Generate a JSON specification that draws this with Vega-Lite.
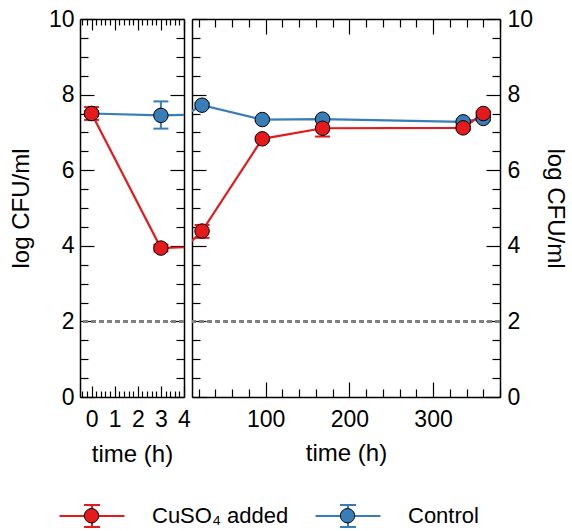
{
  "$schema": "https://vega.github.io/schema/vega-lite/v6.json",
  "background": "white",
  "padding": {"left": 9, "top": 8, "right": 0, "bottom": 0},
  "datasets": {
    "cfu": [
      {"series": "Control", "t": 0, "y": 7.5, "lo": 7.45, "hi": 7.55},
      {"series": "Control", "t": 3, "y": 7.45, "lo": 7.1, "hi": 7.82},
      {"series": "Control", "t": 24, "y": 7.72, "lo": 7.66, "hi": 7.78},
      {"series": "Control", "t": 96, "y": 7.34, "lo": 7.3, "hi": 7.38},
      {"series": "Control", "t": 168, "y": 7.35, "lo": 7.3, "hi": 7.4},
      {"series": "Control", "t": 336, "y": 7.28, "lo": 7.24, "hi": 7.32},
      {"series": "Control", "t": 360, "y": 7.37, "lo": 7.32, "hi": 7.42},
      {"series": "CuSO₄ added", "t": 0, "y": 7.5, "lo": 7.33, "hi": 7.67},
      {"series": "CuSO₄ added", "t": 3, "y": 3.94, "lo": 3.85, "hi": 4.03},
      {"series": "CuSO₄ added", "t": 24, "y": 4.39, "lo": 4.21, "hi": 4.55},
      {"series": "CuSO₄ added", "t": 96, "y": 6.83, "lo": 6.78, "hi": 6.88},
      {"series": "CuSO₄ added", "t": 168, "y": 7.11, "lo": 6.89, "hi": 7.33},
      {"series": "CuSO₄ added", "t": 336, "y": 7.12, "lo": 7.07, "hi": 7.17},
      {"series": "CuSO₄ added", "t": 360, "y": 7.5, "lo": 7.45, "hi": 7.55}
    ]
  },
  "data": {"name": "cfu"},
  "bounds": "flush",
  "spacing": 8,
  "hconcat": [
    {
      "width": 104,
      "height": 378,
      "resolve": {"axis": {"x": "independent", "y": "independent"}},
      "layer": [
        {
          "mark": {"type": "rule", "color": "#808080", "strokeDash": [5, 3], "strokeWidth": 1.5},
          "encoding": {"y": {"datum": 2, "type": "quantitative", "scale": {"domain": [0, 10]}, "axis": null}}
        },
        {
          "mark": {"type": "line", "strokeWidth": 2.2, "clip": true},
          "encoding": {
            "x": {"field": "t", "type": "quantitative", "scale": {"domain": [-0.5, 4], "nice": false},
              "axis": {"orient": "bottom", "title": "time (h)",
                "values": [-0.4, -0.2, 0, 0.2, 0.4, 0.6, 0.8, 1, 1.2, 1.4, 1.6, 1.8, 2, 2.2, 2.4, 2.6, 2.8, 3, 3.2, 3.4, 3.6, 3.8, 4],
                "labelExpr": "abs(datum.value - round(datum.value)) < 0.001 ? '' + round(datum.value) : ''",
                "tickSize": {"condition": {"test": "abs(datum.value - round(datum.value)) < 0.001", "value": -11}, "value": -6},
                "labelPadding": 22, "titlePadding": 6}},
            "y": {"field": "y", "type": "quantitative", "scale": {"domain": [0, 10]},
              "axis": {"orient": "left", "title": "log CFU/ml",
                "values": [0, 0.5, 1, 1.5, 2, 2.5, 3, 3.5, 4, 4.5, 5, 5.5, 6, 6.5, 7, 7.5, 8, 8.5, 9, 9.5, 10],
                "labelExpr": "datum.value % 2 === 0 ? '' + datum.value : ''",
                "tickSize": {"condition": {"test": "datum.value % 2 === 0", "value": -14}, "value": -8},
                "labelPadding": 20, "titlePadding": 15}},
            "stroke": {"field": "series", "type": "nominal",
              "scale": {"domain": ["CuSO₄ added", "Control"], "range": ["#e41a1c", "#377eb8"]},
              "legend": {"title": null, "orient": "none", "legendX": 0, "legendY": 485, "direction": "horizontal",
                "symbolType": "M-2.95,0H2.95M0,-1V1M-0.73,-1H0.73M-0.73,1H0.73", "symbolSize": 484,
                "symbolStrokeWidth": 2, "symbolFillColor": "transparent", "symbolOpacity": 1,
                "labelOffset": 48, "columnPadding": 22, "labelFont": "Liberation Sans", "labelFontSize": 22,
                "labelColor": "black", "zindex": 0}}
          }
        },
        {
          "transform": [{"filter": "datum.t <= 4"}],
          "mark": {"type": "rule", "strokeWidth": 2, "clip": true},
          "encoding": {
            "x": {"field": "t", "type": "quantitative", "scale": {"domain": [-0.5, 4], "nice": false},
              "axis": {"orient": "top", "title": null, "labels": false,
                "values": [-0.4, -0.2, 0, 0.2, 0.4, 0.6, 0.8, 1, 1.2, 1.4, 1.6, 1.8, 2, 2.2, 2.4, 2.6, 2.8, 3, 3.2, 3.4, 3.6, 3.8, 4],
                "tickSize": {"condition": {"test": "abs(datum.value - round(datum.value)) < 0.001", "value": -11}, "value": -6}}},
            "y": {"field": "lo", "type": "quantitative", "scale": {"domain": [0, 10]},
              "axis": {"orient": "right", "title": null, "labels": false,
                "values": [0, 0.5, 1, 1.5, 2, 2.5, 3, 3.5, 4, 4.5, 5, 5.5, 6, 6.5, 7, 7.5, 8, 8.5, 9, 9.5, 10],
                "tickSize": {"condition": {"test": "datum.value % 2 === 0", "value": -14}, "value": -8}}},
            "y2": {"field": "hi"},
            "stroke": {"field": "series", "type": "nominal",
              "scale": {"domain": ["CuSO₄ added", "Control"], "range": ["#e41a1c", "#377eb8"]}}
          }
        },
        {
          "transform": [{"filter": "datum.t <= 4"}],
          "mark": {"type": "tick", "orient": "horizontal", "size": 15, "thickness": 2, "opacity": 1},
          "encoding": {
            "x": {"field": "t", "type": "quantitative", "axis": null},
            "y": {"field": "lo", "type": "quantitative", "axis": null},
            "color": {"field": "series", "type": "nominal", "legend": null,
              "scale": {"domain": ["CuSO₄ added", "Control"], "range": ["#e41a1c", "#377eb8"]}}
          }
        },
        {
          "transform": [{"filter": "datum.t <= 4"}],
          "mark": {"type": "tick", "orient": "horizontal", "size": 15, "thickness": 2, "opacity": 1},
          "encoding": {
            "x": {"field": "t", "type": "quantitative", "axis": null},
            "y": {"field": "hi", "type": "quantitative", "axis": null},
            "color": {"field": "series", "type": "nominal", "legend": null,
              "scale": {"domain": ["CuSO₄ added", "Control"], "range": ["#e41a1c", "#377eb8"]}}
          }
        },
        {
          "transform": [{"filter": "datum.t <= 4"}],
          "mark": {"type": "point", "shape": "circle", "filled": true, "size": 210, "stroke": "black", "strokeWidth": 1, "opacity": 1},
          "encoding": {
            "x": {"field": "t", "type": "quantitative", "axis": null},
            "y": {"field": "y", "type": "quantitative", "axis": null},
            "fill": {"field": "series", "type": "nominal",
              "scale": {"domain": ["Control", "CuSO₄ added"], "range": ["#377eb8", "#e41a1c"]},
              "legend": {"title": null, "orient": "none", "legendX": 0, "legendY": 485, "direction": "horizontal",
                "values": ["CuSO₄ added", "Control"],
                "symbolType": "M0.65,0A0.65,0.65,0,1,1,-0.65,0A0.65,0.65,0,1,1,0.65,0Z", "symbolSize": 484,
                "symbolStrokeColor": "black", "symbolStrokeWidth": 1, "symbolOpacity": 1,
                "labelOffset": 48, "columnPadding": 48, "labelFont": "Liberation Sans", "labelFontSize": 22,
                "labelColor": "black", "labelOpacity": 0, "zindex": 1}}
          }
        }
      ]
    },
    {
      "width": 308,
      "height": 378,
      "resolve": {"axis": {"x": "independent", "y": "independent"}},
      "layer": [
        {
          "mark": {"type": "rule", "color": "#808080", "strokeDash": [5, 3], "strokeWidth": 1.5},
          "encoding": {"y": {"datum": 2, "type": "quantitative", "scale": {"domain": [0, 10]}, "axis": null}}
        },
        {
          "mark": {"type": "line", "strokeWidth": 2.2, "clip": true},
          "encoding": {
            "x": {"field": "t", "type": "quantitative", "scale": {"domain": [12, 380], "nice": false},
              "axis": {"orient": "bottom", "title": "time (h)",
                "values": [20, 40, 60, 80, 100, 120, 140, 160, 180, 200, 220, 240, 260, 280, 300, 320, 340, 360, 380],
                "labelExpr": "datum.value % 100 === 0 ? '' + datum.value : ''",
                "tickSize": {"condition": {"test": "datum.value % 100 === 0", "value": -15}, "value": -8},
                "labelPadding": 26, "titlePadding": 3}},
            "y": {"field": "y", "type": "quantitative", "scale": {"domain": [0, 10]},
              "axis": {"orient": "left", "title": null, "labels": false,
                "values": [0, 0.5, 1, 1.5, 2, 2.5, 3, 3.5, 4, 4.5, 5, 5.5, 6, 6.5, 7, 7.5, 8, 8.5, 9, 9.5, 10],
                "tickSize": {"condition": {"test": "datum.value % 2 === 0", "value": -14}, "value": -8}}},
            "stroke": {"field": "series", "type": "nominal",
              "scale": {"domain": ["CuSO₄ added", "Control"], "range": ["#e41a1c", "#377eb8"]},
              "legend": {"title": null, "orient": "none", "legendX": 0, "legendY": 485, "direction": "horizontal",
                "symbolType": "M-2.95,0H2.95M0,-1V1M-0.73,-1H0.73M-0.73,1H0.73", "symbolSize": 484,
                "symbolStrokeWidth": 2, "symbolFillColor": "transparent", "symbolOpacity": 1,
                "labelOffset": 48, "columnPadding": 22, "labelFont": "Liberation Sans", "labelFontSize": 22,
                "labelColor": "black", "zindex": 0}}
          }
        },
        {
          "transform": [{"filter": "datum.t >= 12"}],
          "mark": {"type": "rule", "strokeWidth": 2, "clip": true},
          "encoding": {
            "x": {"field": "t", "type": "quantitative", "scale": {"domain": [12, 380], "nice": false},
              "axis": {"orient": "top", "title": null, "labels": false,
                "values": [20, 40, 60, 80, 100, 120, 140, 160, 180, 200, 220, 240, 260, 280, 300, 320, 340, 360, 380],
                "tickSize": {"condition": {"test": "datum.value % 100 === 0", "value": -15}, "value": -8}}},
            "y": {"field": "lo", "type": "quantitative", "scale": {"domain": [0, 10]},
              "axis": {"orient": "right", "title": "log CFU/ml",
                "values": [0, 0.5, 1, 1.5, 2, 2.5, 3, 3.5, 4, 4.5, 5, 5.5, 6, 6.5, 7, 7.5, 8, 8.5, 9, 9.5, 10],
                "labelExpr": "datum.value % 2 === 0 ? '' + datum.value : ''",
                "tickSize": {"condition": {"test": "datum.value % 2 === 0", "value": -14}, "value": -8},
                "labelPadding": 21, "titlePadding": 10}},
            "y2": {"field": "hi"},
            "stroke": {"field": "series", "type": "nominal",
              "scale": {"domain": ["CuSO₄ added", "Control"], "range": ["#e41a1c", "#377eb8"]}}
          }
        },
        {
          "transform": [{"filter": "datum.t >= 12"}],
          "mark": {"type": "tick", "orient": "horizontal", "size": 15, "thickness": 2, "opacity": 1},
          "encoding": {
            "x": {"field": "t", "type": "quantitative", "axis": null},
            "y": {"field": "lo", "type": "quantitative", "axis": null},
            "color": {"field": "series", "type": "nominal", "legend": null,
              "scale": {"domain": ["CuSO₄ added", "Control"], "range": ["#e41a1c", "#377eb8"]}}
          }
        },
        {
          "transform": [{"filter": "datum.t >= 12"}],
          "mark": {"type": "tick", "orient": "horizontal", "size": 15, "thickness": 2, "opacity": 1},
          "encoding": {
            "x": {"field": "t", "type": "quantitative", "axis": null},
            "y": {"field": "hi", "type": "quantitative", "axis": null},
            "color": {"field": "series", "type": "nominal", "legend": null,
              "scale": {"domain": ["CuSO₄ added", "Control"], "range": ["#e41a1c", "#377eb8"]}}
          }
        },
        {
          "transform": [{"filter": "datum.t >= 12"}],
          "mark": {"type": "point", "shape": "circle", "filled": true, "size": 210, "stroke": "black", "strokeWidth": 1, "opacity": 1},
          "encoding": {
            "x": {"field": "t", "type": "quantitative", "axis": null},
            "y": {"field": "y", "type": "quantitative", "axis": null},
            "fill": {"field": "series", "type": "nominal",
              "scale": {"domain": ["Control", "CuSO₄ added"], "range": ["#377eb8", "#e41a1c"]},
              "legend": {"title": null, "orient": "none", "legendX": 0, "legendY": 485, "direction": "horizontal",
                "values": ["CuSO₄ added", "Control"],
                "symbolType": "M0.65,0A0.65,0.65,0,1,1,-0.65,0A0.65,0.65,0,1,1,0.65,0Z", "symbolSize": 484,
                "symbolStrokeColor": "black", "symbolStrokeWidth": 1, "symbolOpacity": 1,
                "labelOffset": 48, "columnPadding": 48, "labelFont": "Liberation Sans", "labelFontSize": 22,
                "labelColor": "black", "labelOpacity": 0, "zindex": 1}}
          }
        }
      ]
    }
  ],
  "config": {
    "font": "Liberation Sans",
    "view": {"stroke": null},
    "axis": {
      "grid": false, "domainColor": "black", "domainWidth": 1.5,
      "tickColor": "black", "tickWidth": 1.2,
      "labelFont": "Liberation Sans", "labelFontSize": 23, "labelColor": "black",
      "labelFlush": false, "labelOverlap": false,
      "titleFont": "Liberation Sans", "titleFontSize": 24, "titleFontWeight": "normal", "titleColor": "black"
    },
    "legend": {"padding": 0}
  }
}
